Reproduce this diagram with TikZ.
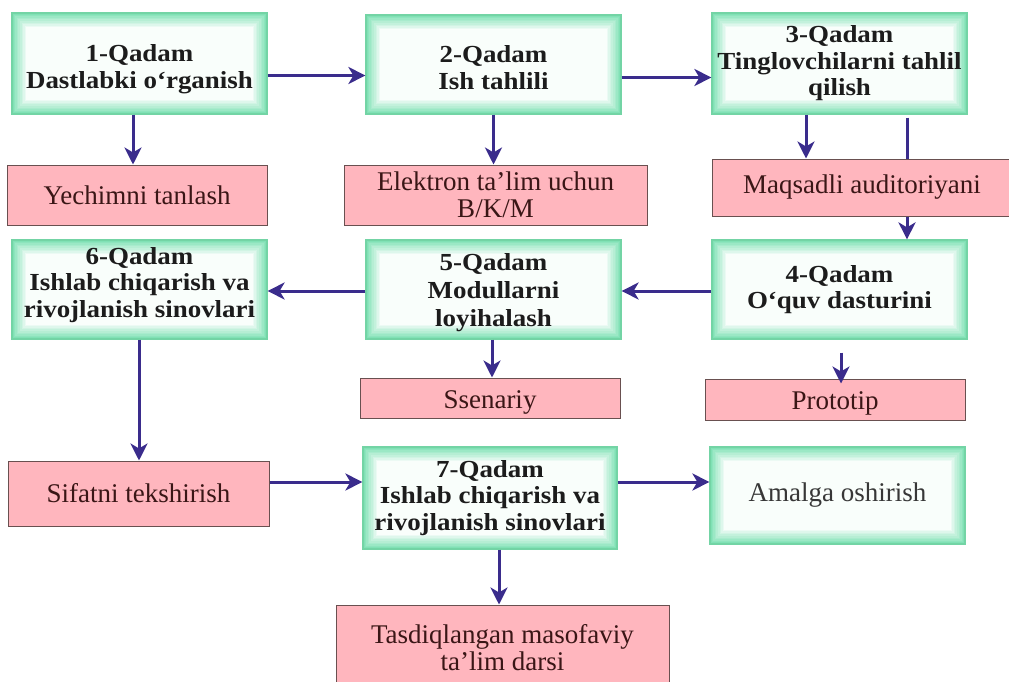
\documentclass[tikz,border=0pt]{standalone}
\usepackage{fontspec}
\setmainfont{Liberation Serif}
\newfontfamily\stepf{Liberation Serif}[FakeStretch=1.1]
\newfontfamily\boxf{Liberation Serif}
\usetikzlibrary{arrows.meta,calc}
\definecolor{mint}{RGB}{105,220,168}
\definecolor{mintedge}{RGB}{115,212,165}
\definecolor{pinkfill}{RGB}{255,182,190}
\definecolor{pinkdraw}{RGB}{105,80,80}
\definecolor{arrowc}{RGB}{58,44,140}
\definecolor{steptext}{RGB}{28,28,28}
\definecolor{pinktext}{RGB}{58,22,22}
\definecolor{graytext}{RGB}{55,55,55}
\newcommand\shifttext[2]{\raisebox{#1}[\height][\depth]{\begin{tabular}{@{}c@{}}#2\end{tabular}}}
\tikzset{
  glowbox/.style={rectangle, draw=mintedge, line width=1.2pt, inner sep=0pt, align=center,
    path picture={
      \foreach \k in {0,...,9}{
        \pgfmathtruncatemacro{\pc}{85-\k*9}
        \fill[mint!\pc!white] ($(path picture bounding box.south west)+(\k*1.6pt,\k*1.6pt)$) rectangle ($(path picture bounding box.north east)-(\k*1.6pt,\k*1.6pt)$);
      }
    }},
  stepbox/.style={glowbox, text=steptext, font=\stepf\bfseries\fontsize{24.5}{26.5}\selectfont},
  plainbox/.style={glowbox, text=graytext, font=\boxf\fontsize{27}{26.5}\selectfont},
  pinkbox/.style={rectangle, fill=pinkfill, draw=pinkdraw, line width=1pt, inner sep=0pt, align=center,
    text=pinktext, font=\boxf\fontsize{27}{26.5}\selectfont},
  conn/.style={draw=arrowc, line width=3pt},
  arr/.style={conn, -{Stealth[length=17pt,width=17pt,inset=5pt]}}
}
\begin{document}
\begin{tikzpicture}[x=1pt,y=-1pt]
\useasboundingbox[fill=white] (0,0) rectangle (1009,682);
% row 1
\node[stepbox, minimum width=255pt, minimum height=101pt] (s1) at (139.5,63.5) {\shifttext{-6pt}{1-Qadam\\Dastlabki o‘rganish}};
\node[stepbox, minimum width=255pt, minimum height=99pt] (s2) at (493.5,64.5) {\shifttext{-6pt}{2-Qadam\\Ish tahlili}};
\node[stepbox, minimum width=255pt, minimum height=101pt] (s3) at (839.5,63.5) {3-Qadam\\Tinglovchilarni tahlil\\qilish};
\node[pinkbox, minimum width=260pt, minimum height=60pt] (p1) at (137,195) {Yechimni tanlash};
\node[pinkbox, minimum width=303pt, minimum height=60pt] (p2) at (495.5,195) {Elektron ta’lim uchun\\B/K/M};
\node[pinkbox, minimum width=300pt, minimum height=57pt] (p3) at (862,187.5) {Maqsadli auditoriyani};
% row 2
\node[stepbox, minimum width=255pt, minimum height=99pt] (s6) at (139.5,289.5) {\shifttext{4pt}{6-Qadam\\Ishlab chiqarish va\\rivojlanish sinovlari}};
\node[stepbox, minimum width=255pt, minimum height=99pt] (s5) at (493.5,289.5) {\shifttext{-4pt}{5-Qadam\\[1.5pt]Modullarni\\[1.5pt]loyihalash}};
\node[stepbox, minimum width=255pt, minimum height=99pt] (s4) at (839.5,289.5) {4-Qadam\\O‘quv dasturini};
\node[pinkbox, minimum width=260pt, minimum height=40pt] (ps) at (490,398) {\shifttext{-5pt}{Ssenariy}};
\node[pinkbox, minimum width=260pt, minimum height=41pt] (pp) at (835,399.5) {\shifttext{-5pt}{Prototip}};
% row 3
\node[pinkbox, minimum width=261pt, minimum height=65pt] (pq) at (138.5,493.5) {Sifatni tekshirish};
\node[stepbox, minimum width=254pt, minimum height=102pt] (s7) at (490,498) {7-Qadam\\Ishlab chiqarish va\\rivojlanish sinovlari};
\node[plainbox, minimum width=255pt, minimum height=97pt] (am) at (837.5,495.5) {Amalga oshirish};
\node[pinkbox, minimum width=333pt, minimum height=85pt] (pt) at (502.5,647.5) {Tasdiqlangan masofaviy\\ta’lim darsi};
% connectors row 1
\draw[arr] ([yshift=-12pt]s1.east) -- ([yshift=-12pt]s1.east -| s2.west);
\draw[arr] ([yshift=-13pt]s2.east) -- ([yshift=-13pt]s2.east -| s3.west);
\draw[arr] ([xshift=-6.5pt]s1.south) -- ([xshift=-6.5pt]s1.south |- p1.north);
\draw[arr] (s2.south) -- (s2.south |- p2.north);
\draw[arr] ([xshift=-33.5pt]s3.south) -- ([xshift=-33.5pt]s3.south |- p3.north);
\draw[conn] ([xshift=67.5pt,yshift=-3pt]s3.south) -- ([xshift=67.5pt]s3.south |- p3.north);
\draw[arr] ([xshift=67.5pt]s4.north |- p3.south) -- ([xshift=67.5pt]s4.north);
% connectors row 2
\draw[arr] ([yshift=-1.5pt]s4.west) -- ([yshift=-1.5pt]s4.west -| s5.east);
\draw[arr] ([yshift=-1.5pt]s5.west) -- ([yshift=-1.5pt]s5.west -| s6.east);
\draw[arr] ([xshift=-1.5pt]s5.south) -- ([xshift=-1.5pt]s5.south |- ps.north);
\coordinate (c4) at ([xshift=1.5pt,yshift=-13pt]s4.south);
\draw[arr, shorten >=-5pt] (c4) -- (c4 |- pp.north);
\draw[arr] ([xshift=-0.5pt]s6.south) -- ([xshift=-0.5pt]s6.south |- pq.north);
% connectors row 3
\draw[arr] ([yshift=11.5pt]pq.east) -- ([yshift=11.5pt]pq.east -| s7.west);
\draw[arr] ([yshift=16pt]s7.east) -- ([yshift=16pt]s7.east -| am.west);
\draw[arr] ([xshift=9pt]s7.south) -- ([xshift=9pt]s7.south |- pt.north);
\end{tikzpicture}
\end{document}
